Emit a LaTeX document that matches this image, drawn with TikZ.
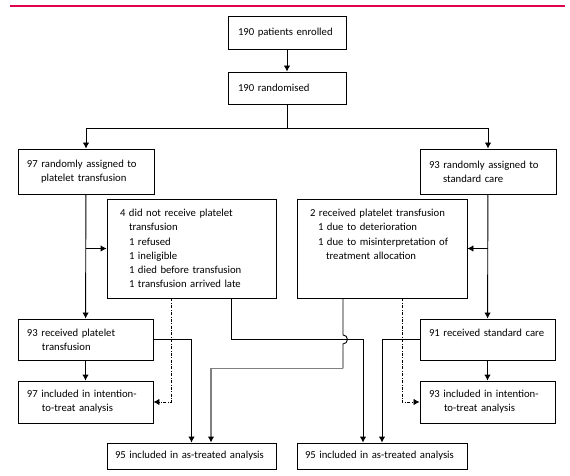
\documentclass[tikz,border=0pt]{standalone}
\usepackage{fontspec}
\setmainfont{Carlito}
\usetikzlibrary{calc}
\usetikzlibrary{arrows.meta}
\definecolor{lancetred}{HTML}{E0004D}
\exhyphenpenalty=10000

\tikzset{
  flowbox/.style={draw, line width=.9pt, align=left, inner xsep=10pt, inner ysep=0pt,
    font=\fontsize{10.7}{14.2}\selectfont},
  link/.style={line width=.9pt},
  arr/.style={line width=.9pt, ->, >={Latex[length=6pt,width=6.5pt]}},
  dasharr/.style={line width=.8pt, dash pattern=on 3pt off 1.5pt on .8pt off 1.5pt, ->, >={Latex[length=6pt,width=6.5pt]}},
  greyarr/.style={draw=black!50, line width=1.6pt, ->, >={Latex[length=6pt,width=6.5pt,black]}},
}

\begin{document}
\begin{tikzpicture}[x=1pt, y=-1pt]
\useasboundingbox (0,0) rectangle (570,476);
\draw[lancetred, line width=1.6pt] (10,6) -- (565,6);

% top of the chart
\node[flowbox, text width=98pt, minimum height=33pt] (enrol) at (287,32.5) {190 patients enrolled};
\node[flowbox, text width=98pt, minimum height=32pt] (rand) at (287,88) {190 randomised};
\node[flowbox, inner xsep=9pt, text width=118pt, minimum height=45pt] (assignP) at (86,171.5) {97 randomly assigned to\\\hspace*{14pt}platelet transfusion};
\node[flowbox, inner xsep=9pt, text width=118pt, minimum height=45pt] (assignS) at (488,171.5) {93 randomly assigned to\\\hspace*{14pt}standard care};

% crossovers
\node[flowbox, inner xsep=13pt, text width=143pt, minimum height=99pt] (notRec) at (191.5,248.5) {4 did not receive platelet\\\hspace*{9pt}transfusion\\\hspace*{9pt}1 refused\\\hspace*{9pt}1 ineligible\\\hspace*{9pt}1 died before transfusion\\\hspace*{9pt}1 transfusion arrived late};
\node[flowbox, inner xsep=13pt, text width=144pt, minimum height=99pt] (rec) at (382,248.5) {2 received platelet transfusion\\\hspace*{8pt}1 due to deterioration\\\hspace*{8pt}1 due to misinterpretation of\\\hspace*{16pt}treatment allocation\\\mbox{}\\\mbox{}};

% treatment received and analysis
\node[flowbox, inner xsep=9pt, text width=117pt, minimum height=41pt] (recP) at (85.5,339.5) {93 received platelet\\\hspace*{15pt}transfusion};
\node[flowbox, inner xsep=9pt, text width=117pt, minimum height=41pt] (recS) at (487.5,339.5) {91 received standard care\\\mbox{}};
\node[flowbox, inner xsep=9pt, text width=117pt, minimum height=42pt] (ittP) at (85.5,402) {97 included in intention-\\\hspace*{15pt}to-treat analysis};
\node[flowbox, inner xsep=9pt, text width=117pt, minimum height=42pt] (ittS) at (487.5,402) {93 included in intention-\\\hspace*{15pt}to-treat analysis};
\node[flowbox, inner xsep=8pt, text width=153pt, minimum height=26pt] (atP) at (191.5,456) {95 included in as-treated analysis};
\node[flowbox, inner xsep=8pt, text width=154pt, minimum height=26pt] (atS) at (382,456) {95 included in as-treated analysis};

\coordinate (split) at (287,128);
\coordinate (atPr) at ($(atP.north)+(19.5,0)$);
\coordinate (atSl) at ($(atS.north)+(-19,0)$);

\draw[arr] (enrol) -- (rand);
\draw[link] (rand) -- (split);
\draw[arr] (split) -| (assignP);
\draw[arr] (split) -| (assignS);
\draw[arr] (assignP) -- (recP);
\draw[arr] (assignS) -- (recS);
\draw[arr] (assignP.south |- notRec.west) -- (notRec.west);
\draw[arr] (assignS.south |- rec.east) -- (rec.east);
\draw[arr] (recP) -- (ittP);
\draw[arr] (recS) -- (ittS);

\draw[dasharr] ([xshift=-20pt]notRec.south) |- (ittP.east);
\draw[dasharr] ([xshift=20pt]rec.south) |- (ittS.west);

\draw[arr] (recP.east) -| (atP.north);
\draw[arr] (recS.west) -| (atS.north);
\draw[arr] ([xshift=40pt]notRec.south) |- (atSl |- recP.east) -- (atSl);
\draw[link] ([xshift=-39pt]rec.south) -- ++(0,36.5) arc[start angle=90, end angle=-90, radius=4.5pt] -- ++(0,24.5) coordinate (bend);
\draw[greyarr] (bend) -| (atPr);
\end{tikzpicture}
\end{document}
